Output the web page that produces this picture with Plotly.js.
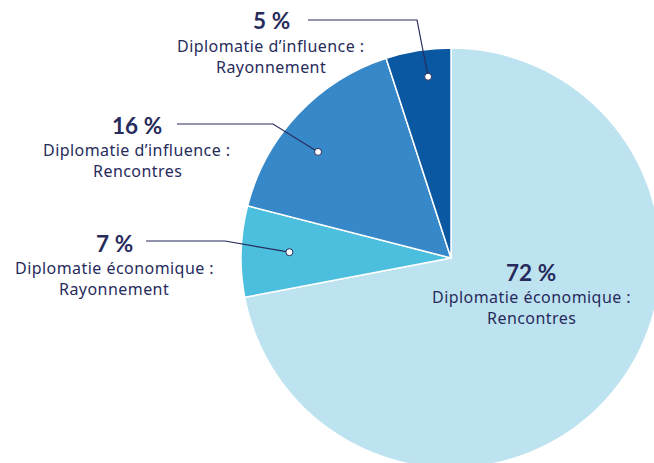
<!DOCTYPE html>
<html><head><meta charset="utf-8">
<script src="https://cdn.plot.ly/plotly-3.0.1.min.js"></script>
<style>html,body{margin:0;padding:0;overflow:hidden;background:#fff;width:654px;height:463px}#c{width:700px;height:520px}
.annotation-text{letter-spacing:0.45px}</style>
</head><body><div id="c"></div>
<script>
// Data
const categories = ["Diplomatie économique : Rencontres","Diplomatie économique : Rayonnement","Diplomatie d’influence : Rencontres","Diplomatie d’influence : Rayonnement"];
const values = [72, 7, 16, 5];
const pctLabels = ["72\u202F%", "7\u202F%", "16\u202F%", "5\u202F%"];
const line1 = ["Diplomatie économique :", "Diplomatie économique :", "Diplomatie d’influence :", "Diplomatie d’influence :"];
const line2 = ["Rencontres", "Rayonnement", "Rencontres", "Rayonnement"];
const colors = ["#BEE3F0", "#4CBFDE", "#3788C9", "#0A58A1"];

// Layout geometry (pixels)
const W = 700, H = 520, cx = 451, cy = 258, R = 210;
const navy = "#272B5C";
const P = (x, y) => [x / W, 1 - y / H];

const blocks = [
  {x: 531, y: 272, connector: false},
  {x: 114, y: 243, connector: true, sx: 146, bx: 225, ly: 241, frac: 0.51, rf: 0.77},
  {x: 137, y: 125, connector: true, sx: 177, bx: 273, ly: 124, frac: 0.42, rf: 0.81},
  {x: 271, y: 21,  connector: true, sx: 308, bx: 417, ly: 20,  frac: 0.60, rf: 0.87}
];

const total = values.reduce((a, b) => a + b, 0);
const annotations = [], shapes = [];
let cum = 0;
values.forEach((v, i) => {
  const b = blocks[i];
  const fontB = {family: "Lato, 'Noto Sans', sans-serif", size: 22.5, color: navy, weight: 900};
  const fontR = {family: "'Noto Sans', sans-serif", size: 16, color: navy};
  let p = P(b.x, b.y);
  annotations.push({xref: "paper", yref: "paper", x: p[0], y: p[1], text: "<b>" + pctLabels[i] + "</b>", showarrow: false, font: fontB, xanchor: "center", yanchor: "middle"});
  p = P(b.x, b.y + 25);
  annotations.push({xref: "paper", yref: "paper", x: p[0], y: p[1], text: line1[i], showarrow: false, font: fontR, xanchor: "center", yanchor: "middle"});
  p = P(b.x, b.y + 46);
  annotations.push({xref: "paper", yref: "paper", x: p[0], y: p[1], text: line2[i], showarrow: false, font: fontR, xanchor: "center", yanchor: "middle"});
  if (b.connector) {
    const th = (cum + v * b.frac) / total * 2 * Math.PI;
    const dx = cx + R * b.rf * Math.sin(th), dy = cy - R * b.rf * Math.cos(th);
    const a = P(b.sx, b.ly), c = P(b.bx, b.ly), d = P(dx, dy);
    shapes.push({type: "path", xref: "paper", yref: "paper",
      path: `M ${a[0]},${a[1]} L ${c[0]},${c[1]} L ${d[0]},${d[1]}`,
      line: {color: navy, width: 1.2}});
    shapes.push({type: "circle", xref: "paper", yref: "paper", xsizemode: "pixel", ysizemode: "pixel",
      xanchor: d[0], yanchor: d[1], x0: -3.5, x1: 3.5, y0: -3.5, y1: 3.5,
      fillcolor: "#ffffff", line: {color: navy, width: 1}});
  }
  cum += v;
});

const trace = {
  type: "pie", labels: categories, values: values, sort: false, direction: "clockwise", rotation: 0,
  marker: {colors: colors, line: {color: "#ffffff", width: 1.5}},
  textinfo: "none", hoverinfo: "none", showlegend: false,
  domain: {x: [(cx - R) / W, (cx + R) / W], y: [1 - (cy + R) / H, 1 - (cy - R) / H]}
};

Plotly.newPlot("c", [trace], {
  width: W, height: H, margin: {l: 0, r: 0, t: 0, b: 0},
  paper_bgcolor: "#fff", showlegend: false,
  annotations: annotations, shapes: shapes
}, {staticPlot: true});
</script></body></html>
